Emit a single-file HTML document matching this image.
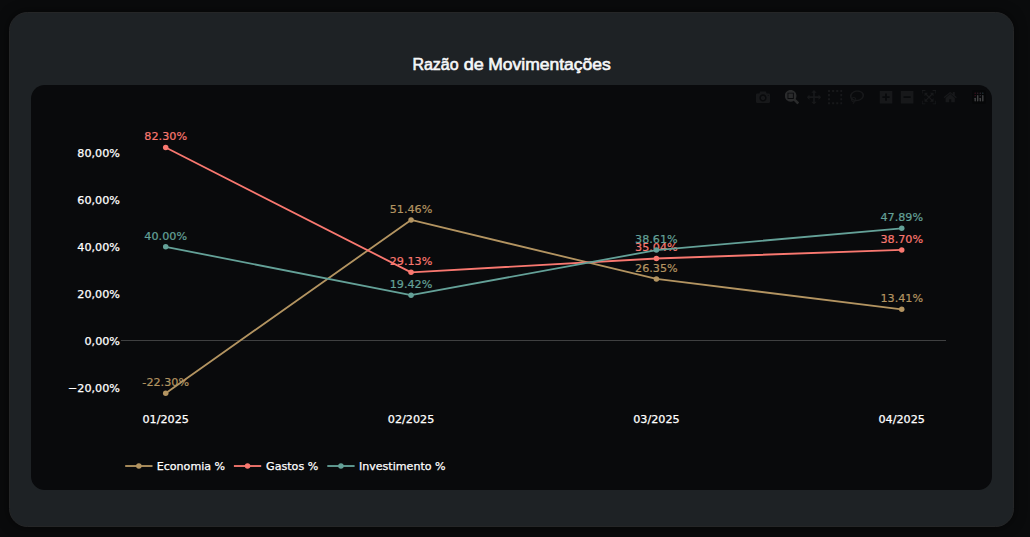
<!DOCTYPE html>
<html lang="pt-BR">
<head>
<meta charset="utf-8">
<title>Razão de Movimentações</title>
<style>
html,body{margin:0;padding:0;}
body{width:1030px;height:537px;overflow:hidden;background:#0a0b0c;position:relative;
 font-family:"Liberation Sans","DejaVu Sans",sans-serif;}
.card{position:absolute;left:9px;top:12px;width:1005px;height:515px;box-sizing:border-box;
 background:#1e2225;border-radius:18.3px;border:1px solid #252627;box-shadow:0 0 12px rgba(0,0,0,.55);}
.panel{position:absolute;left:31px;top:85px;width:961px;height:405px;background:#090a0c;border-radius:13.75px;}
svg.chart{position:absolute;left:0;top:0;width:1030px;height:537px;}
svg.chart text{font-family:"DejaVu Sans","Liberation Sans",sans-serif;font-size:11.2px;}
svg.chart text.ttl{font-family:"Liberation Sans",sans-serif;font-size:16px;fill:#f6f7f8;stroke:#f6f7f8;stroke-width:0.6px;}
svg.chart text.w{stroke:#fff;stroke-width:0.25px;}
</style>
</head>
<body>
<div class="card"></div>
<div class="panel"></div>
<svg class="chart" width="1030" height="537" viewBox="0 0 1030 537">
<svg x="755.8" y="90" width="14.4" height="14.4" viewBox="0 0 1000 1000"><path d="m500 450c-83 0-150-67-150-150 0-83 67-150 150-150 83 0 150 67 150 150 0 83-67 150-150 150z m400 150h-120c-16 0-34 13-39 29l-31 93c-6 15-23 28-40 28h-340c-16 0-34-13-39-28l-31-94c-6-15-23-28-40-28h-120c-55 0-100-45-100-100v-450c0-55 45-100 100-100h800c55 0 100 45 100 100v450c0 55-45 100-100 100z m-400-550c-138 0-250 112-250 250 0 138 112 250 250 250 138 0 250-112 250-250 0-138-112-250-250-250z m365 380c-19 0-35 16-35 35 0 19 16 35 35 35 19 0 35-16 35-35 0-19-16-35-35-35z" transform="matrix(1 0 0 -1 0 850)" fill="#17181a"/></svg>
<svg x="784.8" y="90" width="14.4" height="14.4" viewBox="0 0 1000 1000"><path d="m1000-25l-250 251c40 63 63 138 63 218 0 224-182 406-407 406-224 0-406-182-406-406s183-406 407-406c80 0 155 22 218 62l250-250 125 125z m-812 250l0 438 437 0 0-438-437 0z m62 375l313 0 0-312-313 0 0 312z" transform="matrix(1 0 0 -1 0 850)" fill="#2a2b2c"/></svg>
<svg x="806.8" y="90" width="14.4" height="14.4" viewBox="0 0 1000 1000"><path d="m1000 350l-187 188 0-125-250 0 0 250 125 0-188 187-187-187 125 0 0-250-250 0 0 125-188-188 186-187 0 125 252 0 0-250-125 0 187-188 188 188-125 0 0 250 250 0 0-126 187 188z" transform="matrix(1 0 0 -1 0 850)" fill="#17181a"/></svg>
<svg x="828.0" y="90" width="14.4" height="14.4" viewBox="0 0 1000 1000"><path d="m0 850l0-143 143 0 0 143-143 0z m286 0l0-143 143 0 0 143-143 0z m285 0l0-143 143 0 0 143-143 0z m286 0l0-143 143 0 0 143-143 0z m-857-286l0-143 143 0 0 143-143 0z m857 0l0-143 143 0 0 143-143 0z m-857-285l0-143 143 0 0 143-143 0z m857 0l0-143 143 0 0 143-143 0z m-857-286l0-143 143 0 0 143-143 0z m286 0l0-143 143 0 0 143-143 0z m285 0l0-143 143 0 0 143-143 0z m286 0l0-143 143 0 0 143-143 0z" transform="matrix(1 0 0 -1 0 850)" fill="#17181a"/></svg>
<svg x="849.8" y="90" width="14.4" height="14.4" viewBox="0 0 1031 1000"><path d="m1018 538c-36 207-290 336-568 286-277-48-473-256-436-463 10-57 36-108 76-151-13-66 11-137 68-183 34-28 75-41 114-42l-55-70 0 0c-2-1-3-2-4-3-10-14-8-34 5-45 14-11 34-8 45 4 1 1 2 3 2 5l0 0 113 140c16 11 31 24 45 40 4 3 6 7 8 11 48-3 100 0 151 9 278 48 473 255 436 462z m-624-379c-80 14-149 48-197 96 42 42 109 47 156 9 33-26 47-66 41-105z m-187-74c-19 16-33 37-39 60 50-32 109-55 174-68-42-25-95-24-135 8z m360 75c-34-7-69-9-102-8 8 62-16 128-68 170-73 59-175 54-244-5-9 20-16 40-20 61-28 159 121 317 333 354s407-60 434-217c28-159-121-318-333-355z" transform="matrix(1 0 0 -1 0 850)" fill="#17181a"/></svg>
<svg x="878.8" y="90" width="14.4" height="14.4" viewBox="0 0 875 1000"><path d="m1 787l0-875 875 0 0 875-875 0z m687-500l-187 0 0-187-125 0 0 187-188 0 0 125 188 0 0 187 125 0 0-187 187 0 0-125z" transform="matrix(1 0 0 -1 0 850)" fill="#17181a"/></svg>
<svg x="899.9" y="90" width="14.4" height="14.4" viewBox="0 0 875 1000"><path d="m0 788l0-876 875 0 0 876-875 0z m688-500l-500 0 0 125 500 0 0-125z" transform="matrix(1 0 0 -1 0 850)" fill="#17181a"/></svg>
<svg x="921.8" y="90" width="14.4" height="14.4" viewBox="0 0 1000 1000"><path d="m250 850l-187 0-63 0 0-62 0-188 63 0 0 188 187 0 0 62z m688 0l-188 0 0-62 188 0 0-188 62 0 0 188 0 62-62 0z m-875-938l0 188-63 0 0-188 0-62 63 0 187 0 0 62-187 0z m875 188l0-188-188 0 0-62 188 0 62 0 0 62 0 188-62 0z m-125 188l-1 0-93-94-156 156 156 156 92-93 2 0 0 250-250 0 0-2 93-92-156-156-156 156 94 92 0 2-250 0 0-250 0 0 93 93 157-156-157-156-93 94 0 0 0-250 250 0 0 0-94 93 156 157 156-157-93-93 0 0 250 0 0 250z" transform="matrix(1 0 0 -1 0 850)" fill="#17181a"/></svg>
<svg x="943.0" y="90" width="14.4" height="14.4" viewBox="0 0 928.6 1000"><path d="m786 296v-267q0-15-11-26t-25-10h-214v214h-143v-214h-214q-15 0-25 10t-11 26v267q0 1 0 2t0 2l321 264 321-264q1-1 1-4z m124 39l-34-41q-5-5-12-6h-2q-7 0-12 3l-386 322-386-322q-7-4-13-4-7 2-12 7l-35 41q-4 5-3 13t6 12l401 334q18 15 42 15t43-15l136-114v109q0 8 5 13t13 5h107q8 0 13-5t5-13v-227l122-102q5-5 6-12t-4-13z" transform="matrix(1 0 0 -1 0 850)" fill="#17181a"/></svg>
<svg x="972" y="90" width="14" height="14" viewBox="0 0 132 132" opacity="0.25">
<rect fill="#000" x="0" y="0" width="132" height="132" rx="18" ry="18"/>
<circle fill="#9EF" cx="102" cy="30" r="6"/><circle fill="#BAC" cx="78" cy="30" r="6"/><circle fill="#BAC" cx="78" cy="54" r="6"/>
<circle fill="#D69" cx="54" cy="30" r="6"/><circle fill="#F26" cx="30" cy="30" r="6"/><circle fill="#F26" cx="30" cy="54" r="6"/>
<path fill="#FFF" d="M30,72a6,6,0,0,0-6,6v24a6,6,0,0,0,12,0V78A6,6,0,0,0,30,72Z"/>
<path fill="#FFF" d="M78,72a6,6,0,0,0-6,6v24a6,6,0,0,0,12,0V78A6,6,0,0,0,78,72Z"/>
<path fill="#FFF" d="M54,48a6,6,0,0,0-6,6v48a6,6,0,0,0,12,0V54A6,6,0,0,0,54,48Z"/>
<path fill="#FFF" d="M102,48a6,6,0,0,0-6,6v48a6,6,0,0,0,12,0V54A6,6,0,0,0,102,48Z"/></svg>
<rect x="121" y="340" width="825" height="1" fill="#3f4041"/>
<polyline points="165.70,393.18 411.05,219.92 656.40,278.90 901.75,309.30" fill="none" stroke="#b39461" stroke-width="1.83" stroke-linejoin="round"/>
<circle cx="165.70" cy="393.18" r="2.75" fill="#b39461"/>
<circle cx="411.05" cy="219.92" r="2.75" fill="#b39461"/>
<circle cx="656.40" cy="278.90" r="2.75" fill="#b39461"/>
<circle cx="901.75" cy="309.30" r="2.75" fill="#b39461"/>
<text x="165.70" y="386.18" text-anchor="middle" fill="#b39461" stroke="#b39461" stroke-width="0.2">-22.30%</text>
<text x="411.05" y="212.92" text-anchor="middle" fill="#b39461" stroke="#b39461" stroke-width="0.2">51.46%</text>
<text x="656.40" y="271.90" text-anchor="middle" fill="#b39461" stroke="#b39461" stroke-width="0.2">26.35%</text>
<text x="901.75" y="302.30" text-anchor="middle" fill="#b39461" stroke="#b39461" stroke-width="0.2">13.41%</text>
<polyline points="165.70,147.48 411.05,272.37 656.40,258.49 901.75,249.89" fill="none" stroke="#f97870" stroke-width="1.83" stroke-linejoin="round"/>
<circle cx="165.70" cy="147.48" r="2.75" fill="#f97870"/>
<circle cx="411.05" cy="272.37" r="2.75" fill="#f97870"/>
<circle cx="656.40" cy="258.49" r="2.75" fill="#f97870"/>
<circle cx="901.75" cy="249.89" r="2.75" fill="#f97870"/>
<text x="165.70" y="140.48" text-anchor="middle" fill="#f97870" stroke="#f97870" stroke-width="0.2">82.30%</text>
<text x="411.05" y="265.37" text-anchor="middle" fill="#f97870" stroke="#f97870" stroke-width="0.2">29.13%</text>
<text x="656.40" y="251.49" text-anchor="middle" fill="#f97870" stroke="#f97870" stroke-width="0.2">35.04%</text>
<text x="901.75" y="242.89" text-anchor="middle" fill="#f97870" stroke="#f97870" stroke-width="0.2">38.70%</text>
<polyline points="165.70,246.84 411.05,295.18 656.40,250.11 901.75,228.31" fill="none" stroke="#64a198" stroke-width="1.83" stroke-linejoin="round"/>
<circle cx="165.70" cy="246.84" r="2.75" fill="#64a198"/>
<circle cx="411.05" cy="295.18" r="2.75" fill="#64a198"/>
<circle cx="656.40" cy="250.11" r="2.75" fill="#64a198"/>
<circle cx="901.75" cy="228.31" r="2.75" fill="#64a198"/>
<text x="165.70" y="239.84" text-anchor="middle" fill="#64a198" stroke="#64a198" stroke-width="0.2">40.00%</text>
<text x="411.05" y="288.18" text-anchor="middle" fill="#64a198" stroke="#64a198" stroke-width="0.2">19.42%</text>
<text x="656.40" y="243.11" text-anchor="middle" fill="#64a198" stroke="#64a198" stroke-width="0.2">38.61%</text>
<text x="901.75" y="221.31" text-anchor="middle" fill="#64a198" stroke="#64a198" stroke-width="0.2">47.89%</text>
<text class="ttl" x="412.4" y="69.8" textLength="46.2" lengthAdjust="spacingAndGlyphs">Razão</text>
<text class="ttl" x="463.7" y="69.8" textLength="20.1" lengthAdjust="spacingAndGlyphs">de</text>
<text class="ttl" x="488.2" y="69.8" textLength="122.6" lengthAdjust="spacingAndGlyphs">Movimentações</text>
<text x="120" y="157" text-anchor="end" fill="#ffffff" class="w">80,00%</text>
<text x="120" y="204" text-anchor="end" fill="#ffffff" class="w">60,00%</text>
<text x="120" y="251" text-anchor="end" fill="#ffffff" class="w">40,00%</text>
<text x="120" y="298" text-anchor="end" fill="#ffffff" class="w">20,00%</text>
<text x="120" y="345" text-anchor="end" fill="#ffffff" class="w">0,00%</text>
<text x="120" y="392" text-anchor="end" fill="#ffffff" class="w">−20,00%</text>
<text x="165.70" y="423" text-anchor="middle" fill="#ffffff" class="w">01/2025</text>
<text x="411.05" y="423" text-anchor="middle" fill="#ffffff" class="w">02/2025</text>
<text x="656.40" y="423" text-anchor="middle" fill="#ffffff" class="w">03/2025</text>
<text x="901.75" y="423" text-anchor="middle" fill="#ffffff" class="w">04/2025</text>
<rect x="125.2" y="465.1" width="27.3" height="1.83" fill="#b39461"/>
<circle cx="138.85" cy="466" r="2.75" fill="#b39461"/>
<text x="156.7" y="469.9" fill="#ffffff" class="w" style="font-size:11.1px">Economia %</text>
<rect x="233.9" y="465.1" width="27.3" height="1.83" fill="#f97870"/>
<circle cx="247.55" cy="466" r="2.75" fill="#f97870"/>
<text x="266.1" y="469.9" fill="#ffffff" class="w" style="font-size:11.1px">Gastos %</text>
<rect x="327.3" y="465.1" width="27.3" height="1.83" fill="#64a198"/>
<circle cx="340.95" cy="466" r="2.75" fill="#64a198"/>
<text x="358.9" y="469.9" fill="#ffffff" class="w" style="font-size:11.1px">Investimento %</text>
</svg>
</body>
</html>
